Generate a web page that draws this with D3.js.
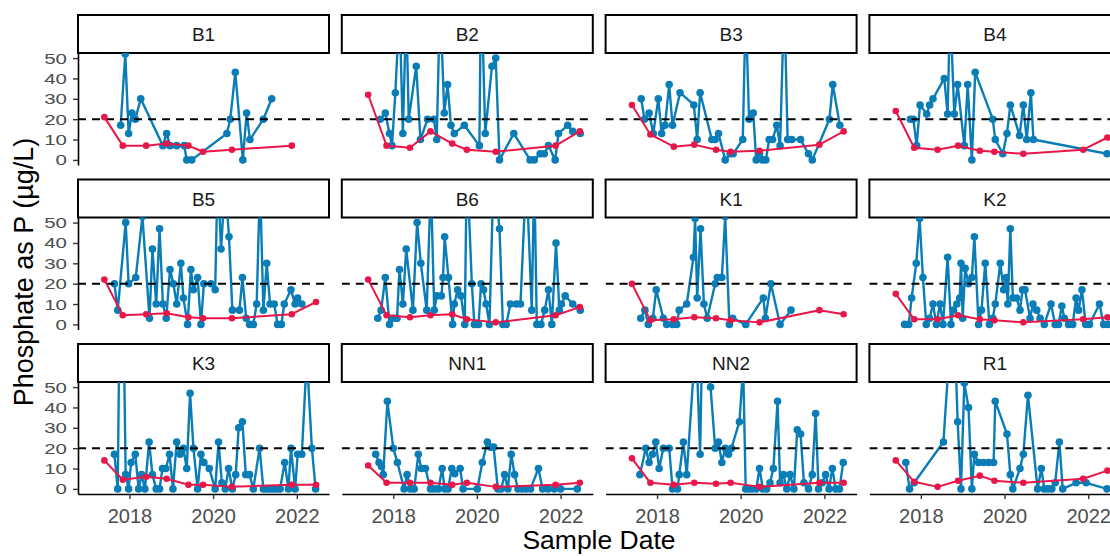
<!DOCTYPE html>
<html>
<head>
<meta charset="utf-8">
<script src="https://cdn.jsdelivr.net/npm/d3@7"></script>
<style>
  body { margin: 0; background: #fff; }
  svg text { font-family: "Liberation Sans", Arial, sans-serif; }
</style>
</head>
<body>
<div id="chart"></div>
<script>
// ---- data (dates as decimal years, values in ug/L) ----
const sites = ["B1", "B2", "B3", "B4", "B5", "B6", "K1", "K2", "K3", "NN1", "NN2", "R1"];
const avgDates = [2017.40, 2017.84, 2018.40, 2018.89, 2019.41, 2019.76, 2020.45, 2021.88, 2022.46];
const yTicks = [0, 10, 20, 30, 40, 50];
const xTickYears = [2018, 2020, 2022];
const guideline = 20;

const B1_obs = [[2017.79,17],[2017.90,52],[2017.98,13],[2018.06,23],[2018.14,20],[2018.27,30],[2018.80,7],[2018.89,13],[2018.97,7],[2019.13,7],[2019.31,7],[2019.37,0],[2019.49,0],[2020.33,13],[2020.41,20],[2020.53,43],[2020.71,0],[2020.80,23],[2020.88,10],[2021.20,20],[2021.40,30]];
const B1_avg = [21, 7, 7, 8, 7, 4, 5, 7, null];

const B2_obs = [[2017.69,20],[2017.81,23],[2017.91,13],[2017.97,7],[2018.05,33],[2018.15,75],[2018.23,13],[2018.31,75],[2018.37,20],[2018.55,46],[2018.65,10],[2018.82,20],[2018.97,20],[2019.04,10],[2019.12,80],[2019.22,23],[2019.30,37],[2019.38,17],[2019.46,13],[2019.70,17],[2020.06,7],[2020.10,90],[2020.20,13],[2020.36,46],[2020.45,50],[2020.54,0],[2020.88,13],[2021.27,0],[2021.37,0],[2021.51,3],[2021.61,3],[2021.71,7],[2021.87,0],[2021.95,13],[2022.17,17],[2022.29,14],[2022.47,13]];
const B2_avg = [32, 7, 6, 14, 8, 5, 4, 7, 14];

const B3_obs = [[2017.62,30],[2017.70,20],[2017.81,23],[2017.91,13],[2018.03,30],[2018.11,13],[2018.19,17],[2018.29,37],[2018.37,17],[2018.55,33],[2018.88,27],[2018.96,10],[2019.03,33],[2019.31,10],[2019.39,10],[2019.47,13],[2019.63,0],[2019.75,3],[2019.82,3],[2020.05,10],[2020.12,75],[2020.20,20],[2020.30,23],[2020.37,0],[2020.45,3],[2020.52,0],[2020.60,0],[2020.68,10],[2020.76,10],[2020.86,17],[2020.94,7],[2021.04,80],[2021.12,10],[2021.22,10],[2021.43,10],[2021.62,3],[2021.71,0],[2022.12,20],[2022.20,37],[2022.37,17]];
const B3_avg = [27, 12.5, 6.5, 7.5, 5, 4, 4.5, 7.5, 14];

const B4_obs = [[2017.75,20],[2017.82,20],[2017.90,7],[2017.98,27],[2018.14,22.5],[2018.21,27],[2018.29,30],[2018.56,40],[2018.64,22.5],[2018.70,75],[2018.80,22.5],[2018.88,37],[2019.04,7],[2019.12,37],[2019.22,0],[2019.30,43],[2019.72,20],[2019.78,10],[2019.96,3],[2020.06,13],[2020.14,27],[2020.36,12],[2020.45,27],[2020.53,10],[2020.63,33],[2020.69,10],[2022.45,3]];
const B4_avg = [24, 6, 5, 7, 4.5, 4, 3, 5, 11];

const B5_obs = [[2017.64,20],[2017.72,7],[2017.91,50],[2017.98,20],[2018.15,23],[2018.31,53],[2018.48,3],[2018.55,37],[2018.64,10],[2018.72,47],[2018.80,10],[2018.88,3],[2018.97,27],[2019.05,20],[2019.13,10],[2019.23,30],[2019.29,13],[2019.39,0],[2019.47,27],[2019.53,17],[2019.63,23],[2019.71,0],[2019.78,20],[2019.95,20],[2020.05,17],[2020.11,75],[2020.19,37],[2020.29,70],[2020.38,43],[2020.46,7],[2020.63,7],[2020.70,23],[2020.79,3],[2020.87,0],[2020.96,0],[2021.04,10],[2021.12,70],[2021.20,7],[2021.28,30],[2021.36,10],[2021.46,10],[2021.54,0],[2021.63,0],[2021.70,10],[2021.86,17],[2021.96,10],[2022.02,13],[2022.12,10]];
const B5_avg = [22, 4.5, 5, 5.5, 3.5, 3, 3, 5, 11];

const B6_obs = [[2017.63,3],[2017.71,7],[2017.81,23],[2017.91,0],[2018.01,3],[2018.09,3],[2018.15,27],[2018.23,10],[2018.31,37],[2018.47,7],[2018.57,50],[2018.66,30],[2018.80,7],[2018.90,70],[2018.98,7],[2019.04,14],[2019.15,14],[2019.19,23],[2019.23,43],[2019.32,23],[2019.42,0],[2019.46,10],[2019.54,17],[2019.62,14],[2019.71,0],[2019.76,80],[2019.88,20],[2019.94,0],[2020.04,0],[2020.10,20],[2020.16,17],[2020.22,10],[2020.30,0],[2020.40,75],[2020.54,47],[2020.62,0],[2020.70,0],[2020.80,10],[2020.94,10],[2021.04,10],[2021.18,75],[2021.31,7],[2021.37,75],[2021.43,0],[2021.53,0],[2021.62,7],[2021.71,17],[2021.79,0],[2021.89,40],[2021.97,7],[2022.02,10],[2022.11,14],[2022.29,10],[2022.47,7]];
const B6_avg = [22, 4.5, 3.5, 4.5, 5, 2.5, 1, 4.5, 8.5];

const K1_obs = [[2017.61,3],[2017.71,7],[2017.79,0],[2017.90,3],[2017.98,17],[2018.15,3],[2018.23,0],[2018.37,0],[2018.47,0],[2018.53,7],[2018.71,10],[2018.87,33],[2018.91,52],[2018.96,13],[2019.04,47],[2019.12,10],[2019.20,3],[2019.39,20],[2019.44,23],[2019.55,23],[2019.63,53],[2019.73,0],[2019.81,3],[2020.12,0],[2020.54,13],[2020.59,3],[2020.72,20],[2020.94,0],[2021.20,7]];
const K1_avg = [20, 2, 2.5, 3.5, 3, 2, 1, 7, 5];

const K2_obs = [[2017.61,0],[2017.71,0],[2017.78,13],[2017.89,30],[2017.97,52],[2018.05,23],[2018.13,0],[2018.21,3],[2018.29,10],[2018.37,0],[2018.46,10],[2018.53,0],[2018.64,33],[2018.72,0],[2018.78,7],[2018.86,10],[2018.93,13],[2018.96,30],[2019.00,3],[2019.06,27.5],[2019.14,20],[2019.22,23],[2019.28,43],[2019.38,0],[2019.45,7],[2019.54,30],[2019.64,0],[2019.72,3],[2019.78,10],[2019.90,30],[2019.98,17],[2020.04,23],[2020.08,10],[2020.14,47],[2020.20,13],[2020.29,13],[2020.37,7],[2020.43,17],[2020.49,17],[2020.61,3],[2020.68,10],[2020.77,7],[2020.85,3],[2020.95,0],[2021.11,10],[2021.21,0],[2021.29,0],[2021.37,9],[2021.43,3],[2021.53,0],[2021.63,0],[2021.71,13],[2021.77,7],[2021.85,17],[2021.94,0],[2022.03,0],[2022.27,10],[2022.37,0],[2022.47,0]];
const K2_avg = [15, 2.5, 2.5, 4.5, 2.5, 2, 1, 2.5, 3.5];

const K3_obs = [[2017.64,17],[2017.72,0],[2017.76,80],[2017.86,80],[2017.91,7],[2017.98,0],[2018.04,13],[2018.14,17],[2018.22,0],[2018.29,7],[2018.37,0],[2018.47,23],[2018.55,7],[2018.64,0],[2018.72,0],[2018.79,10],[2018.87,10],[2018.96,17],[2019.04,0],[2019.13,23],[2019.21,17],[2019.29,20],[2019.37,10],[2019.45,47],[2019.53,20],[2019.63,0],[2019.71,17],[2019.78,13],[2019.91,10],[2020.05,0],[2020.13,23],[2020.21,3],[2020.29,0],[2020.37,10],[2020.46,0],[2020.54,7],[2020.61,30],[2020.70,33],[2020.78,7],[2020.87,7],[2020.96,0],[2021.11,20],[2021.20,0],[2021.28,0],[2021.36,0],[2021.44,0],[2021.52,0],[2021.60,0],[2021.71,13],[2021.80,0],[2021.86,20],[2021.96,0],[2022.02,17],[2022.12,17],[2022.24,65],[2022.36,20],[2022.45,0]];
const K3_avg = [14, 4.5, 6, 5, 2, 2, 1, 2, 2];

const NN1_obs = [[2017.58,17],[2017.66,13],[2017.72,11],[2017.76,7],[2017.86,43],[2018.00,20],[2018.10,13],[2018.26,0],[2018.33,7],[2018.41,0],[2018.50,0],[2018.60,17],[2018.67,10],[2018.77,10],[2018.89,0],[2018.98,0],[2019.08,0],[2019.17,10],[2019.23,0],[2019.31,0],[2019.40,10],[2019.47,7.5],[2019.60,10],[2019.67,0],[2020.01,0],[2020.13,13],[2020.25,23],[2020.33,20.5],[2020.40,20.5],[2020.50,0],[2020.58,0],[2020.66,7],[2020.74,0],[2020.82,17],[2020.90,7],[2020.98,0],[2021.08,0],[2021.18,0],[2021.28,0],[2021.47,10],[2021.57,0],[2021.70,0],[2021.85,0],[2022.00,0],[2022.40,0]];
const NN1_avg = [11.5, 3, 3, 3, 2, 3, 1, 2, 3];

const NN2_obs = [[2017.59,7],[2017.73,20],[2017.81,13],[2017.89,17],[2017.97,23],[2018.05,10],[2018.15,20],[2018.29,20],[2018.37,0],[2018.49,0],[2018.53,7],[2018.63,23],[2018.71,7],[2018.93,75],[2019.03,17],[2019.08,75],[2019.28,50],[2019.39,20],[2019.47,23],[2019.55,13],[2019.63,20],[2019.71,17],[2019.78,20],[2019.97,33],[2020.06,60],[2020.12,0],[2020.20,0],[2020.28,0],[2020.37,0],[2020.45,10],[2020.53,0],[2020.62,0],[2020.70,3],[2020.78,10],[2020.88,43],[2020.94,3],[2021.02,7],[2021.10,0],[2021.18,7],[2021.27,0],[2021.35,29],[2021.43,27],[2021.51,3],[2021.62,0],[2021.71,7],[2021.79,37],[2021.86,0],[2021.95,3],[2022.03,7],[2022.11,0],[2022.19,10],[2022.27,0],[2022.36,0],[2022.45,13]];
const NN2_avg = [15, 3, 2, 3, 2.5, 3, 1, 3, 3];

const R1_obs = [[2017.64,13],[2017.73,0],[2017.84,3],[2018.54,23],[2018.69,70],[2018.82,70],[2018.88,33],[2018.96,0],[2019.04,52],[2019.14,40],[2019.22,0],[2019.28,17],[2019.38,13],[2019.50,13],[2019.62,13],[2019.74,13],[2019.78,43],[2020.06,27],[2020.14,7],[2020.20,0],[2020.37,10],[2020.45,17],[2020.56,46],[2020.79,0],[2020.88,10],[2020.95,0],[2021.04,0],[2021.13,0],[2021.21,3],[2021.31,23],[2021.39,0],[2021.71,3],[2021.95,3],[2022.45,0]];
const R1_avg = [14, 3.5, 1, 4, 6.5, 4, 3, 5, 9];

const obsBySite = {B1: B1_obs, B2: B2_obs, B3: B3_obs, B4: B4_obs, B5: B5_obs, B6: B6_obs,
                   K1: K1_obs, K2: K2_obs, K3: K3_obs, NN1: NN1_obs, NN2: NN2_obs, R1: R1_obs};
const avgBySite = {B1: B1_avg, B2: B2_avg, B3: B3_avg, B4: B4_avg, B5: B5_avg, B6: B6_avg,
                   K1: K1_avg, K2: K2_avg, K3: K3_avg, NN1: NN1_avg, NN2: NN2_avg, R1: R1_avg};

// ---- layout ----
const W = 1110, H = 556;
const left0 = 78, top0 = 15;
const panelW = 251, panelH = 112, stripH = 38;
const colStep = 263.8, rowStep = 164.5;
const blue = "#0a7db7", red = "#e8174a";
const tickGrey = "#4d4d4d";

function yearToDate(y) {
    const yr = Math.floor(y);
    const a = new Date(yr, 0, 1), b = new Date(yr + 1, 0, 1);
    return new Date(+a + (y - yr) * (b - a));
}

const x = d3.scaleTime()
    .domain([yearToDate(2016.77), yearToDate(2022.77)])
    .range([0, panelW]);
const y = d3.scaleLinear()
    .domain([-2.5, 52.5])
    .range([panelH, 0]);

const svg = d3.select("#chart").append("svg")
    .attr("width", W)
    .attr("height", H);

svg.append("rect").attr("width", W).attr("height", H).attr("fill", "#fff");

const defs = svg.append("defs");
defs.append("clipPath").attr("id", "panelClip")
    .append("rect").attr("width", panelW).attr("height", panelH);

const line = d3.line()
    .defined(d => d[1] != null)
    .x(d => x(yearToDate(d[0])))
    .y(d => y(d[1]));

sites.forEach((site, i) => {
    const col = i % 4, row = Math.floor(i / 4);
    const px = left0 + col * colStep;
    const py = top0 + row * rowStep;

    // strip
    const strip = svg.append("g").attr("transform", `translate(${px},${py})`);
    strip.append("rect")
        .attr("width", panelW).attr("height", stripH)
        .attr("fill", "#fff").attr("stroke", "#000").attr("stroke-width", 2);
    strip.append("text")
        .attr("x", panelW / 2).attr("y", stripH / 2 + 7)
        .attr("text-anchor", "middle")
        .attr("font-size", 19).attr("fill", "#1a1a1a")
        .text(site);

    const g = svg.append("g").attr("transform", `translate(${px},${py + stripH})`);
    const plot = g.append("g").attr("clip-path", "url(#panelClip)");

    const obs = obsBySite[site];
    const avg = avgDates.map((d, k) => [d, avgBySite[site][k]]);

    plot.append("path")
        .datum(obs)
        .attr("d", line)
        .attr("fill", "none").attr("stroke", blue).attr("stroke-width", 2.4)
        .attr("stroke-linejoin", "round");
    plot.selectAll("circle.obs").data(obs).enter().append("circle")
        .attr("class", "obs")
        .attr("cx", d => x(yearToDate(d[0])))
        .attr("cy", d => y(d[1]))
        .attr("r", 3.8).attr("fill", blue);

    plot.append("line")
        .attr("x1", 0).attr("x2", panelW)
        .attr("y1", y(guideline)).attr("y2", y(guideline))
        .attr("stroke", "#000").attr("stroke-width", 2)
        .attr("stroke-dasharray", "8,6");

    plot.append("path")
        .datum(avg)
        .attr("d", line)
        .attr("fill", "none").attr("stroke", red).attr("stroke-width", 2)
        .attr("stroke-linejoin", "round");
    plot.selectAll("circle.avg").data(avg.filter(d => d[1] != null)).enter().append("circle")
        .attr("class", "avg")
        .attr("cx", d => x(yearToDate(d[0])))
        .attr("cy", d => y(d[1]))
        .attr("r", 3.3).attr("fill", red);

    if (col === 0) {
        const ya = g.append("g")
            .call(d3.axisLeft(y).tickValues(yTicks).tickSize(5).tickSizeOuter(0));
        ya.select(".domain").attr("stroke", "#000").attr("stroke-width", 1.6);
        ya.selectAll(".tick line").attr("stroke", "#333").attr("stroke-width", 1.4);
        // labels are drawn short and wide, as in the reference
        ya.selectAll(".tick text")
            .attr("x", null)
            .attr("transform", "translate(-11,0) scale(1.32,1)")
            .attr("font-size", 15.5).attr("fill", tickGrey)
            .attr("font-family", "'Liberation Sans', Arial, sans-serif");
    }
    if (row === 2) {
        const xa = g.append("g")
            .attr("transform", `translate(0,${panelH})`)
            .call(d3.axisBottom(x).tickValues(xTickYears.map(yearToDate))
                .tickFormat(d3.timeFormat("%Y")).tickSize(5).tickSizeOuter(0).tickPadding(10));
        xa.select(".domain").attr("stroke", "#000").attr("stroke-width", 1.6);
        xa.selectAll(".tick line").attr("stroke", "#333").attr("stroke-width", 1.4);
        xa.selectAll(".tick text").attr("font-size", 20).attr("fill", tickGrey)
            .attr("font-family", "'Liberation Sans', Arial, sans-serif");
    }
});

// axis titles
svg.append("text")
    .attr("transform", `translate(33,272) rotate(-90)`)
    .attr("text-anchor", "middle")
    .attr("font-size", 27).attr("fill", "#000")
    .text("Phosphate as P (µg/L)");

svg.append("text")
    .attr("x", 599).attr("y", 549)
    .attr("text-anchor", "middle")
    .attr("font-size", 26.5).attr("fill", "#000")
    .text("Sample Date");
</script>
</body>
</html>
